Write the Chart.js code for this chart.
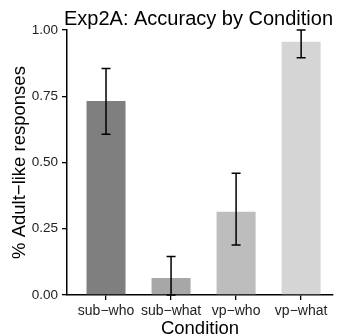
<!DOCTYPE html>
<html>
<head>
<meta charset="utf-8">
<script src="https://cdn.jsdelivr.net/npm/chart.js@4.4.1/dist/chart.umd.min.js"></script>
<style>
  html, body { margin: 0; padding: 0; background: #fff; }
  #wrap { width: 340px; height: 335px; }
</style>
</head>
<body>
<div id="wrap"><canvas id="chart" width="340" height="335"></canvas></div>
<script>
const categories = ['sub\u2212who', 'sub\u2212what', 'vp\u2212who', 'vp\u2212what'];
const accuracy = [0.732, 0.064, 0.314, 0.956];
const errLow = [0.607, 0.0, 0.189, 0.895];
const errHigh = [0.855, 0.145, 0.459, 1.0];
const yTicks = [0, 0.25, 0.5, 0.75, 1];
const barColors = ['#7f7f7f', '#a7a7a7', '#bdbdbd', '#d5d5d5'];

const FONT = "'Liberation Sans', Arial, Helvetica, sans-serif";

// draws the error bars from errLow / errHigh on the chart scales
const errorBars = {
  id: 'errorBars',
  afterDatasetsDraw(chart) {
    const { ctx, scales: { x, y } } = chart;
    ctx.save();
    ctx.strokeStyle = '#000';
    ctx.lineWidth = 1.5;
    categories.forEach((c, i) => {
      const px = x.getPixelForValue(i + 1);
      const lo = y.getPixelForValue(errLow[i]);
      const hi = y.getPixelForValue(errHigh[i]);
      ctx.beginPath();
      ctx.moveTo(px, lo);
      ctx.lineTo(px, hi);
      ctx.moveTo(px - 4.5, hi);
      ctx.lineTo(px + 4.5, hi);
      ctx.moveTo(px - 4.5, lo);
      ctx.lineTo(px + 4.5, lo);
      ctx.stroke();
    });
    ctx.restore();
  }
};

new Chart(document.getElementById('chart').getContext('2d'), {
  type: 'bar',
  data: {
    datasets: [{
      data: accuracy.map((v, i) => ({ x: i + 1, y: v })),
      backgroundColor: barColors,
      borderWidth: 0,
      categoryPercentage: 1,
      barPercentage: 0.6
    }]
  },
  options: {
    responsive: false,
    animation: false,
    layout: { padding: { left: 0, right: 7, top: 0, bottom: 0 } },
    plugins: {
      legend: { display: false },
      tooltip: { enabled: false },
      title: {
        display: true,
        text: 'Exp2A: Accuracy by Condition',
        align: 'end',
        color: '#000',
        font: { family: FONT, size: 20, weight: 'normal', lineHeight: 1 },
        padding: { top: 9, bottom: 1 }
      }
    },
    scales: {
      x: {
        type: 'linear',
        min: 0.4,
        max: 4.49,
        offset: false,
        z: 1,
        afterBuildTicks: s => { s.ticks = categories.map((c, i) => ({ value: i + 1 })); },
        afterFit: s => { s.height = 40; },
        ticks: {
          autoSkip: false,
          maxRotation: 0,
          padding: 3,
          color: '#222',
          font: { family: FONT, size: 14 },
          callback: v => categories[v - 1]
        },
        grid: { drawOnChartArea: false, offset: false, tickLength: 5, color: '#000', lineWidth: 1.3 },
        border: { color: '#000', width: 1.5 },
        title: {
          display: true,
          text: 'Condition',
          color: '#000',
          font: { family: FONT, size: 18.5, lineHeight: 0.65 },
          padding: { top: 0, bottom: 0 }
        }
      },
      y: {
        min: 0,
        max: 1,
        z: 1,
        afterBuildTicks: s => { s.ticks = yTicks.map(v => ({ value: v })); },
        afterFit: s => { s.width = 67; },
        ticks: {
          padding: 4,
          color: '#222',
          font: { family: FONT, size: 13.5 },
          callback: v => v.toFixed(2)
        },
        grid: { drawOnChartArea: false, tickLength: 5, color: '#000', lineWidth: 1.3 },
        border: { color: '#000', width: 1.5 },
        title: {
          display: true,
          text: '% Adult\u2212like responses',
          color: '#000',
          font: { family: FONT, size: 18.5, lineHeight: 1.2 },
          padding: { top: 8.5, bottom: 0 }
        }
      }
    }
  },
  plugins: [errorBars]
});
</script>
</body>
</html>
